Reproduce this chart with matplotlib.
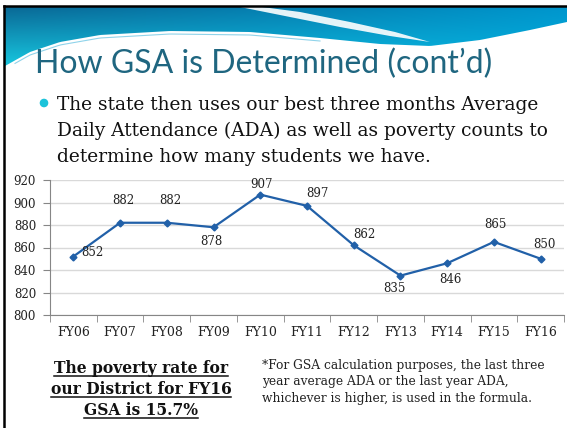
import numpy as np
import matplotlib
matplotlib.use("Agg")
import matplotlib.pyplot as plt
from matplotlib.patches import Polygon, Circle

# data
years = ["FY06", "FY07", "FY08", "FY09", "FY10", "FY11",
         "FY12", "FY13", "FY14", "FY15", "FY16"]
ada = [852, 882, 882, 878, 907, 897, 862, 835, 846, 865, 850]
y_ticks = [800, 820, 840, 860, 880, 900, 920]

title = "How GSA is Determined (cont\u2019d)"
bullet_lines = ["The state then uses our best three months Average",
                "Daily Attendance (ADA) as well as poverty counts to",
                "determine how many students we have."]
poverty_lines = ["The poverty rate for", "our District for FY16", "GSA is 15.7%"]
note_lines = ["*For GSA calculation purposes, the last three",
              "year average ADA or the last year ADA,",
              "whichever is higher, is used in the formula."]

# label placement (pixels, relative to each point)
label_offsets = [(19, 4), (3, 22), (3, 22), (-2, -14), (1, 10), (10, 12),
                 (11, 11), (-6, -13), (3, -16), (2, 17), (4, 14)]

W, H = 567, 428
fig = plt.figure(figsize=(W / 100, H / 100), dpi=100)
fig.patch.set_facecolor("white")

# slide background in pixel coordinates
bg = fig.add_axes([0, 0, 1, 1])
bg.set_xlim(0, W)
bg.set_ylim(H, 0)
bg.axis("off")

# top wave band with a gradient
xs = np.linspace(5, W, 200)
low_x = [5, 30, 60, 100, 170, 250, 320, 380, 430, 480, 530, 567]
low_y = [66, 52, 42, 35, 31, 32, 38, 44, 46, 40, 30, 22]
ys = np.interp(xs, low_x, low_y)
band = Polygon(np.vstack([np.column_stack([xs, ys]), [[W, 7], [5, 7]]]),
               closed=True, facecolor="none", edgecolor="none")
bg.add_patch(band)
gx = np.linspace(0, 1, 200)[None, :, None]
gy = np.linspace(0, 1, 60)[:, None, None]
left_top = np.array([10, 105, 150]) / 255
left_bot = np.array([25, 205, 228]) / 255
right_top = np.array([0, 150, 205]) / 255
right_bot = np.array([5, 180, 225]) / 255
top = left_top * (1 - gx) + right_top * gx
bot = left_bot * (1 - gx) + right_bot * gx
grad = top * (1 - gy) + bot * gy
im = bg.imshow(grad, extent=[5, W, 70, 7], aspect="auto", zorder=1)
im.set_clip_path(band)

# white swoosh across the band
swoosh = [(262, 7), (300, 12), (350, 22), (395, 32), (430, 42),
          (390, 36), (340, 27), (290, 17), (240, 7)]
bg.add_patch(Polygon(swoosh, closed=True, facecolor="white",
                     edgecolor="none", alpha=0.9, zorder=2))
lx = np.linspace(15, 320, 100)
bg.plot(lx, np.interp(lx, low_x, low_y) + 3, color="#8fd3ea", lw=0.8, zorder=2)

# frame
bg.plot([4, 4], [6, H], color="black", lw=1.8, zorder=3)
bg.plot([4, W], [6, 6], color="black", lw=1.8, zorder=3)

# title and bullet text
bg.text(35, 73, title, fontsize=23, family="Lato", color="#1f6680",
        ha="left", va="baseline", zorder=3)
bg.add_patch(Circle((44, 103), 3.6, color="#1cc3da", zorder=3))
for i, line in enumerate(bullet_lines):
    bg.text(57, 110 + i * 26, line, fontsize=13.4, family="DejaVu Serif",
            color="#111111", ha="left", va="baseline", zorder=3)

# poverty statement, bold and underlined
pov_texts = []
for i, line in enumerate(poverty_lines):
    t = bg.text(141, 373 + i * 21, line, fontsize=11.2, family="DejaVu Serif",
                weight="bold", color="#111111", ha="center", va="baseline")
    pov_texts.append(t)

for i, line in enumerate(note_lines):
    bg.text(262, 369 + i * 16.5, line, fontsize=8.85, family="DejaVu Serif",
            color="#222222", ha="left", va="baseline")

# the chart
ax = fig.add_axes([50 / W, 1 - 315 / H, 514 / W, 135 / H])
ax.set_facecolor("none")
x = np.arange(len(years))
ax.plot(x, ada, color="#2160a8", lw=1.6, marker="D", ms=3.5, zorder=3)
for xi, v, (dx, dy) in zip(x, ada, label_offsets):
    ax.annotate(str(v), (xi, v), xytext=(dx, dy), textcoords="offset pixels",
                ha="center", va="center", fontsize=8.5, family="DejaVu Serif",
                color="#222222")

ax.set_xlim(-0.5, len(years) - 0.5)
ax.set_ylim(800, 920)
ax.set_yticks(y_ticks)
ax.set_xticks(x)
ax.set_xticklabels(years)
ax.set_xticks(np.arange(len(years) + 1) - 0.5, minor=True)
ax.tick_params(axis="x", which="major", length=0, pad=8, labelsize=9,
               labelcolor="#222222")
ax.tick_params(axis="x", which="minor", length=5, color="#868686")
ax.tick_params(axis="y", length=5, color="#868686", pad=5, labelsize=8.5,
               labelcolor="#222222")
for lab in ax.get_xticklabels() + ax.get_yticklabels():
    lab.set_family("DejaVu Serif")
ax.grid(axis="y", color="#d9d9d9", lw=1)
ax.set_axisbelow(True)
for s in ["top", "right"]:
    ax.spines[s].set_visible(False)
for s in ["left", "bottom"]:
    ax.spines[s].set_color("#868686")

# underline the poverty lines
fig.canvas.draw()
r = fig.canvas.get_renderer()
inv = bg.transData.inverted()
for i, t in enumerate(pov_texts):
    bb = t.get_window_extent(r)
    x0, _ = inv.transform((bb.x0, 0))
    x1, _ = inv.transform((bb.x1, 0))
    yl = 373 + i * 21 + 3
    bg.plot([x0, x1], [yl, yl], color="#111111", lw=1.1)

fig.savefig("out.png", dpi=100)
